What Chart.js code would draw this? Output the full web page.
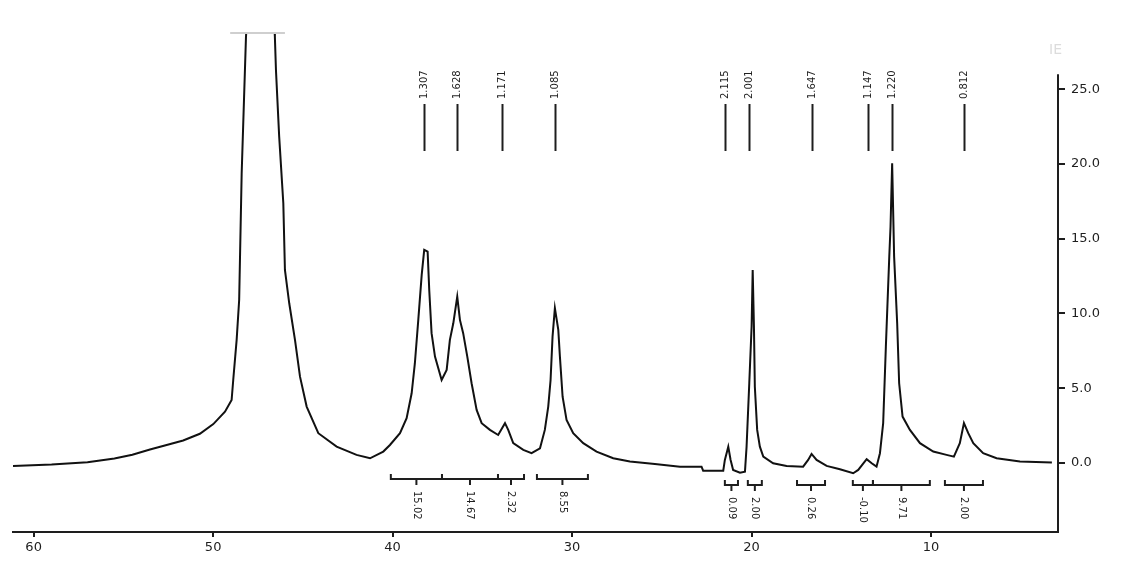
<!DOCTYPE html>
<html>
<head>
<meta charset="utf-8">
<script src="https://cdn.jsdelivr.net/npm/chart.js@4/dist/chart.umd.min.js"></script>
<style>
html,body{margin:0;padding:0;background:#fff;}
#wrap{width:1142px;height:569px;}
</style>
</head>
<body>
<div id="wrap"><canvas id="c" width="1142" height="569"></canvas></div>
<script>
// ---- data (chemical shift in ppm, intensity) ----
const ppm = [61.15,59.0,57.0,55.5,54.5,53.52,52.59,51.67,50.74,49.99,49.34,48.97,48.88,48.69,48.55,48.41,48.17,48.12,
  46.60,46.56,46.50,46.32,46.09,46.00,45.76,45.44,45.16,44.79,44.14,43.12,42.01,41.26,40.52,40.15,39.59,39.22,38.94,
  38.76,38.57,38.38,38.24,38.05,37.96,37.83,37.64,37.27,36.99,36.81,36.62,36.40,36.25,36.07,35.84,35.60,35.32,35.04,
  34.58,34.12,33.74,33.56,33.28,32.72,32.26,31.79,31.52,31.33,31.20,31.09,30.96,30.77,30.68,30.53,30.31,29.94,29.38,
  28.64,27.71,26.78,25.39,23.99,22.79,22.70,21.58,21.49,21.30,21.17,21.03,20.65,20.37,20.28,20.13,20.00,19.94,19.87,
  19.82,19.69,19.54,19.35,18.80,18.05,17.13,16.85,16.66,16.38,15.82,15.08,14.34,14.06,13.59,13.31,13.04,12.85,12.67,
  12.52,12.33,12.26,12.17,12.06,11.89,11.78,11.59,11.18,10.62,9.88,9.14,8.73,8.40,8.17,7.93,7.65,7.10,6.35,5.05,3.27];
const intensity = [-0.20,-0.10,0.05,0.30,0.55,0.90,1.20,1.50,1.95,2.60,3.43,4.21,5.55,8.23,10.90,19.38,28.5,29.5,
  29.5,28.5,26.29,21.83,17.37,12.91,10.68,8.23,5.77,3.77,1.99,1.09,0.54,0.31,0.76,1.20,1.99,2.99,4.66,
  6.67,9.57,12.58,14.25,14.13,11.57,8.68,7.11,5.55,6.22,8.23,9.34,11.12,9.57,8.68,7.11,5.33,3.55,2.66,
  2.21,1.87,2.66,2.21,1.32,0.87,0.65,0.98,2.21,3.77,5.55,8.45,10.35,8.90,7.11,4.43,2.88,1.99,1.32,
  0.76,0.31,0.09,-0.07,-0.25,-0.25,-0.52,-0.52,0.20,1.09,0.20,-0.47,-0.65,-0.58,1.09,5.33,9.12,12.91,9.12,
  5.10,2.21,1.09,0.42,-0.02,-0.20,-0.25,0.20,0.60,0.20,-0.20,-0.42,-0.69,-0.47,0.25,-0.02,-0.25,0.65,2.66,
  7.78,13.80,15.81,20.05,13.80,9.34,5.33,3.10,2.21,1.32,0.76,0.54,0.42,1.32,2.66,1.99,1.32,0.65,0.31,0.09,0.03];

// peak picking labels
const peakPos = [38.26,36.42,33.91,30.96,21.49,20.15,16.64,13.52,12.18,8.17];
const peakLabels = ["1.307","1.628","1.171","1.085","2.115","2.001","1.647","1.147","1.220","0.812"];

// integration regions
const intStart = [40.10,37.25,34.13,31.96,21.49,20.21,17.47,14.36,13.24,9.23];
const intEnd   = [37.25,34.13,32.68,29.12,20.76,19.43,15.91,13.24,10.07,7.11];
const intLabels = ["15.02","14.67","2.32","8.55","0.09","2.00","0.26","-0.10","9.71","2.00"];
const intGroup  = [0,0,0,0,1,1,1,1,1,1];

// axis ticks
const xTicks = [60,50,40,30,20,10];
const yTicks = [0,5,10,15,20,25];

// off-scale peak region (clipped)
const clipFrom = 49.05, clipTo = 46.0;

const FONT = '"DejaVu Sans", Verdana, sans-serif';
const INK = '#1e1e1e';

const annot = {
  id: 'annot',
  afterDraw(chart) {
    const {ctx, chartArea, scales} = chart;
    const x = scales.x, y = scales.y;
    ctx.save();
    // right axis line (starts a bit above the top tick)
    ctx.strokeStyle = INK; ctx.lineWidth = 2;
    ctx.beginPath();
    ctx.moveTo(chartArea.right, y.getPixelForValue(26.0));
    ctx.lineTo(chartArea.right, chartArea.bottom + 1);
    ctx.stroke();

    // clip indicator of the off-scale peak
    ctx.strokeStyle = '#cfcfcf'; ctx.lineWidth = 2;
    ctx.beginPath();
    ctx.moveTo(x.getPixelForValue(clipFrom), chartArea.top);
    ctx.lineTo(x.getPixelForValue(clipTo), chartArea.top);
    ctx.stroke();

    // faint corner label
    ctx.fillStyle = '#dcdcdc';
    ctx.font = '14px ' + FONT;
    ctx.textAlign = 'left'; ctx.textBaseline = 'middle';
    ctx.fillText('IE', 1049, 50);

    // peak labels
    ctx.font = '10px ' + FONT;
    peakPos.forEach((p, i) => {
      const px = Math.round(x.getPixelForValue(p)) + 0.5;
      ctx.strokeStyle = INK; ctx.lineWidth = 2;
      ctx.beginPath(); ctx.moveTo(px, 104); ctx.lineTo(px, 151); ctx.stroke();
      ctx.save();
      ctx.translate(px, 99);
      ctx.rotate(-Math.PI / 2);
      ctx.fillStyle = INK; ctx.textAlign = 'left'; ctx.textBaseline = 'middle';
      ctx.fillText(peakLabels[i], 0, 0);
      ctx.restore();
    });

    // integration brackets
    const groupY = [479, 485];
    intStart.forEach((s, i) => {
      const x1 = x.getPixelForValue(s), x2 = x.getPixelForValue(intEnd[i]);
      const yb = groupY[intGroup[i]];
      const xc = (x1 + x2) / 2;
      ctx.strokeStyle = INK; ctx.lineWidth = 2;
      ctx.beginPath();
      ctx.moveTo(x1, yb - 5); ctx.lineTo(x1, yb); ctx.lineTo(x2, yb); ctx.lineTo(x2, yb - 5);
      ctx.moveTo(xc, yb); ctx.lineTo(xc, yb + 6);
      ctx.stroke();
      ctx.save();
      ctx.translate(xc, yb + 12);
      ctx.rotate(Math.PI / 2);
      ctx.fillStyle = INK; ctx.font = '10px ' + FONT;
      ctx.textAlign = 'left'; ctx.textBaseline = 'middle';
      ctx.fillText(intLabels[i], 0, 0);
      ctx.restore();
    });
    ctx.restore();
  }
};

new Chart(document.getElementById('c'), {
  type: 'line',
  data: {
    datasets: [{
      data: ppm.map((p, i) => ({x: p, y: intensity[i]})),
      borderColor: '#111',
      borderWidth: 2,
      pointRadius: 0,
      tension: 0,
      fill: false
    }]
  },
  options: {
    responsive: false,
    animation: false,
    events: [],
    layout: {padding: {left: 13, top: 33, right: 0, bottom: 0}},
    plugins: {legend: {display: false}, tooltip: {enabled: false}},
    scales: {
      x: {
        type: 'linear',
        reverse: true,
        min: 2.93,
        max: 61.15,
        afterBuildTicks: s => { s.ticks = xTicks.map(v => ({value: v})); },
        afterFit: s => { s.height = 37; },
        grid: {drawOnChartArea: false, drawTicks: true, tickLength: 5, lineWidth: 2, color: INK},
        border: {display: true, color: INK, width: 2},
        ticks: {color: INK, font: {family: FONT, size: 13}, padding: 3, maxRotation: 0,
                callback: v => String(v)}
      },
      y: {
        type: 'linear',
        position: 'right',
        min: -4.62,
        max: 28.76,
        afterBuildTicks: s => { s.ticks = yTicks.map(v => ({value: v})); },
        afterFit: s => { s.width = 84; },
        grid: {drawOnChartArea: false, drawTicks: true, tickLength: 7, lineWidth: 2, color: INK},
        border: {display: false},
        ticks: {color: INK, font: {family: FONT, size: 13}, padding: 6,
                callback: v => Number(v).toFixed(1)}
      }
    }
  },
  plugins: [annot]
});
</script>
</body>
</html>
